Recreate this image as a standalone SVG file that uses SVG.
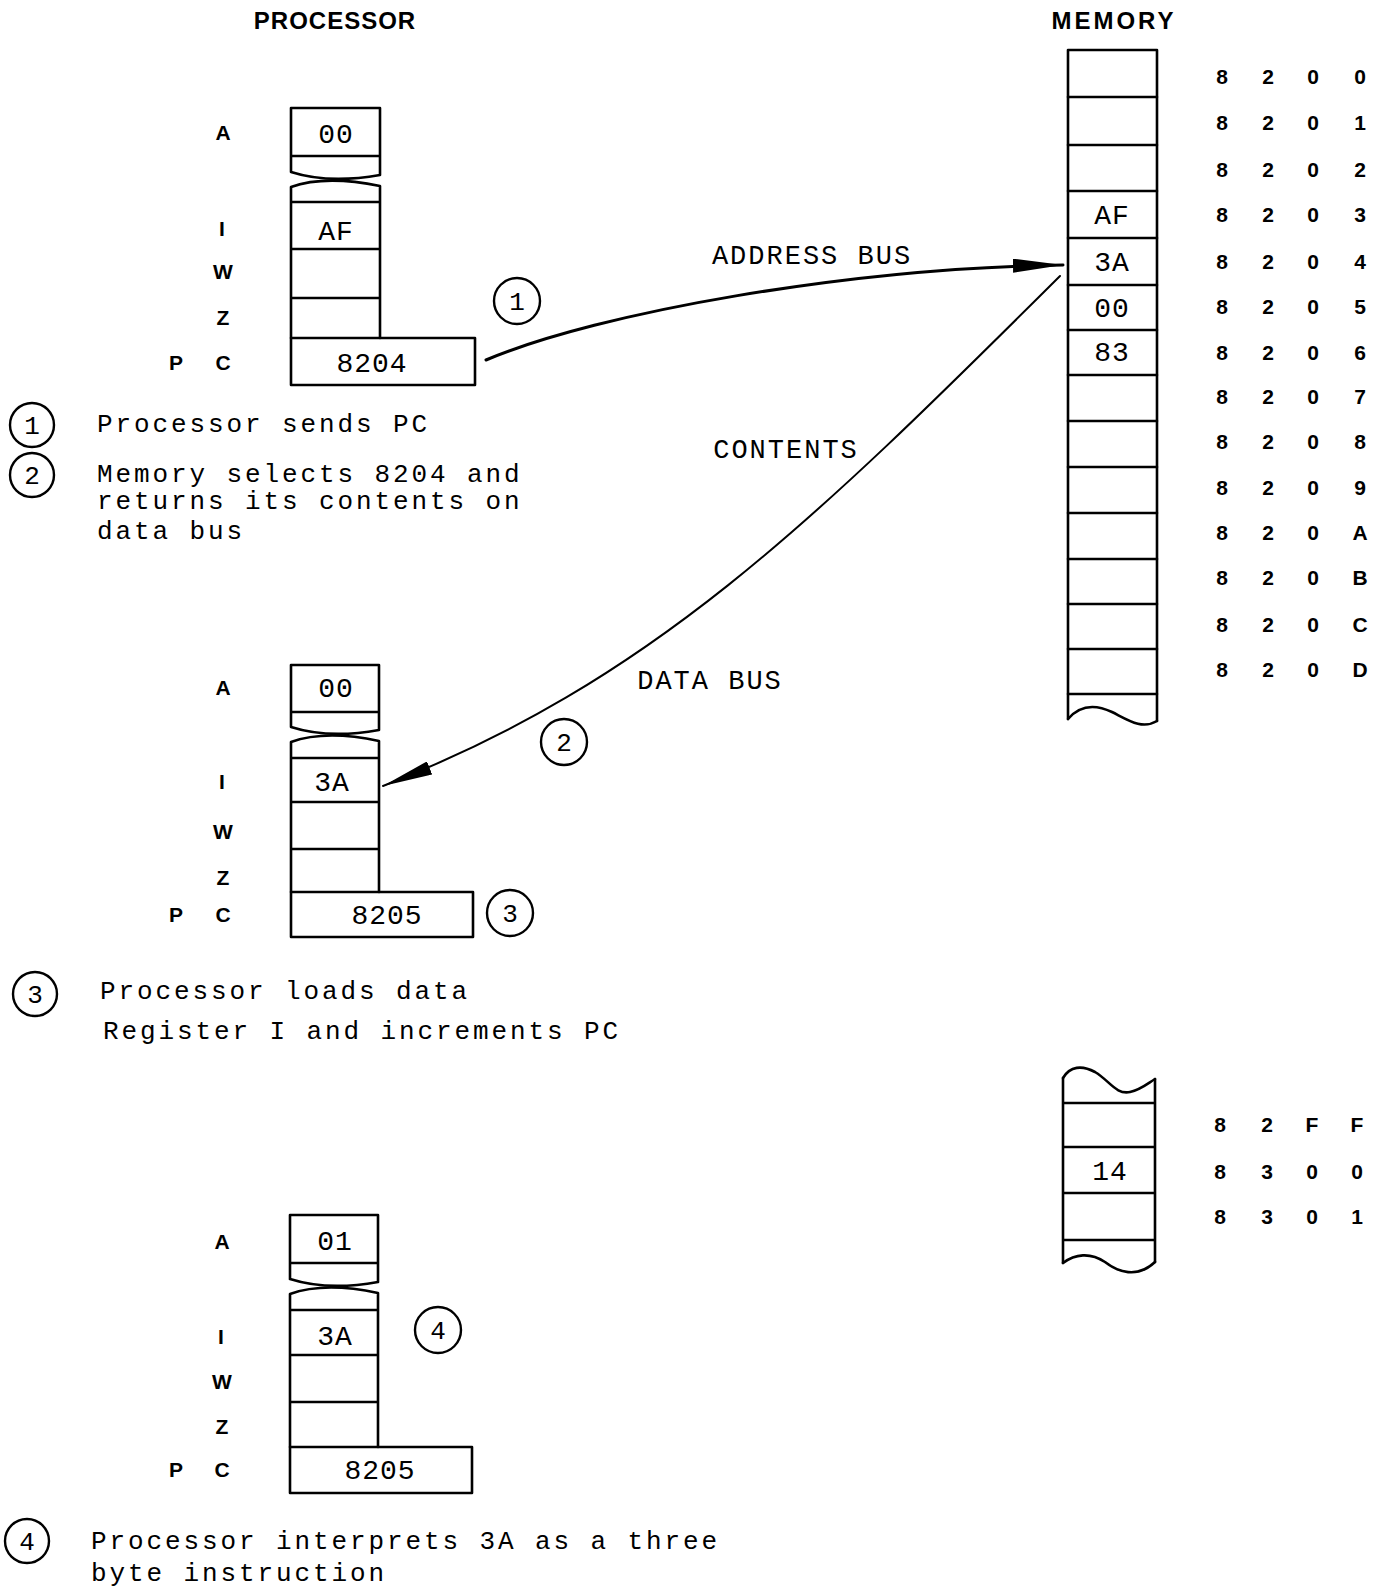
<svg xmlns="http://www.w3.org/2000/svg" width="1379" height="1591" viewBox="0 0 1379 1591">
<style>
.ln{fill:none;stroke:#000;stroke-width:2.6;stroke-linejoin:round;stroke-linecap:round}
.reg{font-family:"Liberation Sans",Arial,sans-serif;font-weight:bold;font-size:21px;text-anchor:middle;fill:#000}
.val{font-family:"Liberation Mono","Courier New",monospace;font-size:28px;letter-spacing:1px;text-anchor:middle;fill:#000}
.addr{font-family:"Liberation Sans",Arial,sans-serif;font-weight:bold;font-size:21px;text-anchor:middle;fill:#000}
.note{font-family:"Liberation Mono","Courier New",monospace;font-size:26px;letter-spacing:2.9px;fill:#000}
.lbl{font-family:"Liberation Mono","Courier New",monospace;font-size:27px;letter-spacing:2px;text-anchor:middle;fill:#000}
.title{font-family:"Liberation Sans",Arial,sans-serif;font-weight:bold;font-size:24px;text-anchor:middle;fill:#000}
.circ{fill:none;stroke:#000;stroke-width:2.4}
.cn{font-family:"Liberation Mono","Courier New",monospace;font-size:26px;text-anchor:middle;fill:#000}
.bus{fill:none;stroke:#000;stroke-linecap:round}
</style>
<defs>
<marker id="arr" markerUnits="userSpaceOnUse" viewBox="0 0 50 14" refX="50" refY="7" markerWidth="50" markerHeight="14" orient="auto">
<path d="M0,0 L50,7 L0,14 Z" fill="#000"/>
</marker>
</defs>
<rect width="1379" height="1591" fill="#fff"/>

<text class="title" x="335" y="29" letter-spacing="1">PROCESSOR</text>
<text class="title" x="1114" y="29" letter-spacing="3">MEMORY</text>

<!-- Processor state 1 -->
<g id="proc1">
<path class="ln" d="M291,172 V108 H380 V175 M291,156 H380 M291,172 C316,180 346,181 380,175"/>
<path class="ln" d="M291,338 V187 C316,178 346,179 380,186 V338 M291,202 H380 M291,249 H380 M291,298 H380"/>
<rect class="ln" x="291" y="338" width="184" height="47"/>
<text class="reg" x="223" y="140">A</text>
<text class="reg" x="222" y="236">I</text>
<text class="reg" x="223" y="279">W</text>
<text class="reg" x="223" y="325">Z</text>
<text class="reg" x="176" y="370">P</text>
<text class="reg" x="223" y="370">C</text>
<text class="val" x="336" y="143">00</text>
<text class="val" x="336" y="240">AF</text>
<text class="val" x="372" y="372">8204</text>
</g>

<!-- Processor state 2 -->
<g id="proc2">
<path class="ln" d="M291,727 V665 H379 V730 M291,712 H379 M291,727 C316,735 346,736 379,730"/>
<path class="ln" d="M291,892 V742 C316,733 346,734 379,741 V892 M291,758 H379 M291,802 H379 M291,849 H379"/>
<rect class="ln" x="291" y="892" width="182" height="45"/>
<text class="reg" x="223" y="695">A</text>
<text class="reg" x="222" y="789">I</text>
<text class="reg" x="223" y="839">W</text>
<text class="reg" x="223" y="885">Z</text>
<text class="reg" x="176" y="922">P</text>
<text class="reg" x="223" y="922">C</text>
<text class="val" x="336" y="697">00</text>
<text class="val" x="332" y="791">3A</text>
<text class="val" x="387" y="924">8205</text>
</g>

<!-- Processor state 3 -->
<g id="proc3">
<path class="ln" d="M290,1279 V1215 H378 V1282 M290,1263 H378 M290,1279 C315,1287 345,1288 378,1282"/>
<path class="ln" d="M290,1447 V1294 C315,1285 345,1286 378,1293 V1447 M290,1310 H378 M290,1355 H378 M290,1402 H378"/>
<rect class="ln" x="290" y="1447" width="182" height="46"/>
<text class="reg" x="222" y="1249">A</text>
<text class="reg" x="221" y="1344">I</text>
<text class="reg" x="222" y="1389">W</text>
<text class="reg" x="222" y="1434">Z</text>
<text class="reg" x="176" y="1477">P</text>
<text class="reg" x="222" y="1477">C</text>
<text class="val" x="335" y="1250">01</text>
<text class="val" x="335" y="1345">3A</text>
<text class="val" x="380" y="1479">8205</text>
</g>

<!-- Memory top -->
<g id="memory">
<path class="ln" d="M1068,719 V50 H1157 V721"/>
<path class="ln" d="M1068,719 C1080,705 1095,704 1112,712 C1128,720 1142,730 1157,721"/>
<path class="ln" d="M1068,97 H1157 M1068,145 H1157 M1068,191 H1157 M1068,238 H1157 M1068,285 H1157 M1068,330 H1157 M1068,375 H1157 M1068,421 H1157 M1068,467 H1157 M1068,513 H1157 M1068,559 H1157 M1068,604 H1157 M1068,649 H1157 M1068,694 H1157"/>
<text class="val" x="1112" y="224">AF</text>
<text class="val" x="1112" y="271">3A</text>
<text class="val" x="1112" y="317">00</text>
<text class="val" x="1112" y="361">83</text>
</g>

<g id="addresses">
<g class="addr">
<text y="84"><tspan x="1222">8</tspan><tspan x="1268">2</tspan><tspan x="1313">0</tspan><tspan x="1360">0</tspan></text>
<text y="130"><tspan x="1222">8</tspan><tspan x="1268">2</tspan><tspan x="1313">0</tspan><tspan x="1360">1</tspan></text>
<text y="177"><tspan x="1222">8</tspan><tspan x="1268">2</tspan><tspan x="1313">0</tspan><tspan x="1360">2</tspan></text>
<text y="222"><tspan x="1222">8</tspan><tspan x="1268">2</tspan><tspan x="1313">0</tspan><tspan x="1360">3</tspan></text>
<text y="269"><tspan x="1222">8</tspan><tspan x="1268">2</tspan><tspan x="1313">0</tspan><tspan x="1360">4</tspan></text>
<text y="314"><tspan x="1222">8</tspan><tspan x="1268">2</tspan><tspan x="1313">0</tspan><tspan x="1360">5</tspan></text>
<text y="360"><tspan x="1222">8</tspan><tspan x="1268">2</tspan><tspan x="1313">0</tspan><tspan x="1360">6</tspan></text>
<text y="404"><tspan x="1222">8</tspan><tspan x="1268">2</tspan><tspan x="1313">0</tspan><tspan x="1360">7</tspan></text>
<text y="449"><tspan x="1222">8</tspan><tspan x="1268">2</tspan><tspan x="1313">0</tspan><tspan x="1360">8</tspan></text>
<text y="495"><tspan x="1222">8</tspan><tspan x="1268">2</tspan><tspan x="1313">0</tspan><tspan x="1360">9</tspan></text>
<text y="540"><tspan x="1222">8</tspan><tspan x="1268">2</tspan><tspan x="1313">0</tspan><tspan x="1360">A</tspan></text>
<text y="585"><tspan x="1222">8</tspan><tspan x="1268">2</tspan><tspan x="1313">0</tspan><tspan x="1360">B</tspan></text>
<text y="632"><tspan x="1222">8</tspan><tspan x="1268">2</tspan><tspan x="1313">0</tspan><tspan x="1360">C</tspan></text>
<text y="677"><tspan x="1222">8</tspan><tspan x="1268">2</tspan><tspan x="1313">0</tspan><tspan x="1360">D</tspan></text>
<text y="1132"><tspan x="1220">8</tspan><tspan x="1267">2</tspan><tspan x="1312">F</tspan><tspan x="1357">F</tspan></text>
<text y="1179"><tspan x="1220">8</tspan><tspan x="1267">3</tspan><tspan x="1312">0</tspan><tspan x="1357">0</tspan></text>
<text y="1224"><tspan x="1220">8</tspan><tspan x="1267">3</tspan><tspan x="1312">0</tspan><tspan x="1357">1</tspan></text>
</g>
</g>

<!-- Memory lower fragment -->
<g id="memory2">
<path class="ln" d="M1063,1078 C1070,1066 1082,1065 1095,1072 C1110,1081 1116,1095 1130,1092 C1140,1090 1147,1084 1155,1079"/>
<path class="ln" d="M1063,1078 V1263 M1155,1079 V1262 M1063,1103 H1155 M1063,1147 H1155 M1063,1193 H1155 M1063,1240 H1155"/>
<path class="ln" d="M1063,1263 C1075,1254 1090,1252 1105,1262 C1118,1272 1137,1279 1155,1262"/>
<text class="val" x="1110" y="1180">14</text>
</g>

<!-- Connectors -->
<g id="connectors">
<path class="bus" stroke-width="3" d="M486,360 C600,312 850,268 1063,265" marker-end="url(#arr)"/>
<path class="bus" stroke-width="2" d="M1060,276 C810,525 650,682 383,786" marker-end="url(#arr)"/>
<text class="lbl" x="812" y="264">ADDRESS BUS</text>
<text class="lbl" x="786" y="458">CONTENTS</text>
<text class="lbl" x="710" y="689">DATA BUS</text>
</g>

<!-- Step markers on diagram -->
<g id="step1"><circle class="circ" cx="517" cy="301" r="23"/><text class="cn" x="517" y="310">1</text></g>
<g id="step2"><circle class="circ" cx="564" cy="742" r="23"/><text class="cn" x="564" y="751">2</text></g>
<g id="step3"><circle class="circ" cx="510" cy="913" r="23"/><text class="cn" x="510" y="922">3</text></g>
<g id="step4"><circle class="circ" cx="438" cy="1330" r="23"/><text class="cn" x="438" y="1339">4</text></g>

<!-- Notes -->
<g id="note1">
<circle class="circ" cx="32" cy="425" r="22"/><text class="cn" x="32" y="434">1</text>
<text class="note" x="97" y="432">Processor sends PC</text>
</g>
<g id="note2">
<circle class="circ" cx="32" cy="475" r="22"/><text class="cn" x="32" y="484">2</text>
<text class="note" x="97" y="482">Memory selects 8204 and</text>
<text class="note" x="97" y="509">returns its contents on</text>
<text class="note" x="97" y="539">data bus</text>
</g>
<g id="note3">
<circle class="circ" cx="35" cy="994" r="22"/><text class="cn" x="35" y="1003">3</text>
<text class="note" x="100" y="999">Processor loads data</text>
<text class="note" x="103" y="1039">Register I and increments PC</text>
</g>
<g id="note4">
<circle class="circ" cx="27" cy="1541" r="22"/><text class="cn" x="27" y="1550">4</text>
<text class="note" x="91" y="1549">Processor interprets 3A as a three</text>
<text class="note" x="91" y="1581">byte instruction</text>
</g>
</svg>
